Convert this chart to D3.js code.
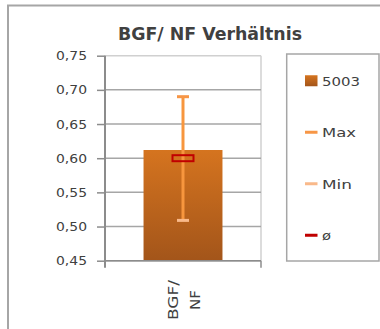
<!DOCTYPE html>
<html>
<head>
<meta charset="utf-8">
<script src="https://cdn.jsdelivr.net/npm/d3@7"></script>
<style>
  body { margin: 0; background: #fff; }
  text { font-family: "DejaVu Sans", sans-serif; fill: #404040; }
</style>
</head>
<body>
<div id="chart"></div>
<script>
// values
var categories = ["BGF/ NF"];
var labelLines = [["BGF/", "NF"]];
var barValues = [0.612];
var maxValues = [0.69];
var minValues = [0.509];
var meanValues = [0.60];
var yTicks = [0.45, 0.50, 0.55, 0.60, 0.65, 0.70, 0.75];
var legendLabels = ["5003", "Max", "Min", "\u00f8"];
var title = "BGF/ NF Verh\u00e4ltnis";

var w = 380, h = 329;
var plotLeft = 105, plotRight = 261, plotTop = 55.7, plotBottom = 260.7;

var de = d3.formatLocale({decimal: ",", thousands: ".", grouping: [3], currency: ["", "€"]});
var fmt = de.format(".2f");

var svg = d3.select("#chart").append("svg").attr("width", w).attr("height", h);

var defs = svg.append("defs");
var grad = defs.append("linearGradient").attr("id", "barGrad")
  .attr("x1", 0).attr("y1", 0).attr("x2", 0).attr("y2", 1);
grad.append("stop").attr("offset", "0%").attr("stop-color", "#d5741f");
grad.append("stop").attr("offset", "100%").attr("stop-color", "#a3551a");

// outer chart border
svg.append("rect")
  .attr("x", 8).attr("y", 5.5)
  .attr("width", w).attr("height", h)
  .attr("fill", "#fff")
  .attr("stroke", "#a6a6a6")
  .attr("stroke-width", 2);

var xScale = d3.scaleBand()
  .domain(categories)
  .range([plotLeft, plotRight])
  .padding(0.328);

var yScale = d3.scaleLinear()
  .domain([0.45, 0.75])
  .range([plotBottom, plotTop]);

// plot area border (right side)
svg.append("line")
  .attr("x1", plotRight).attr("x2", plotRight)
  .attr("y1", plotTop).attr("y2", plotBottom)
  .attr("stroke", "#d0d0d0").attr("stroke-width", 1.5);

// gridlines
svg.selectAll(".grid")
  .data(yTicks)
  .enter()
  .append("line")
  .attr("class", "grid")
  .attr("x1", plotLeft).attr("x2", plotRight)
  .attr("y1", function(d) { return yScale(d); })
  .attr("y2", function(d) { return yScale(d); })
  .attr("stroke", function(d, i) { return i == yTicks.length - 1 ? "#d0d0d0" : "#a6a6a6"; })
  .attr("stroke-width", 1.5);

// bars
svg.selectAll(".bar")
  .data(categories)
  .enter()
  .append("rect")
  .attr("class", "bar")
  .attr("x", function(d) { return xScale(d); })
  .attr("y", function(d, i) { return yScale(barValues[i]); })
  .attr("width", xScale.bandwidth())
  .attr("height", function(d, i) { return yScale(0.45) - yScale(barValues[i]); })
  .attr("fill", "url(#barGrad)");

// y axis
var yAxis = d3.axisLeft(yScale)
  .tickValues(yTicks)
  .tickFormat(fmt)
  .tickSize(8)
  .tickSizeOuter(0)
  .tickPadding(10);

var gy = svg.append("g")
  .attr("transform", "translate(" + plotLeft + ",0)")
  .call(yAxis);
gy.select(".domain").remove();
gy.selectAll("line").attr("stroke", "#8c8c8c").attr("stroke-width", 1.5);
gy.selectAll("text")
  .attr("font-size", 12.5)
  .attr("font-family", "DejaVu Sans")
  .attr("fill", "#404040")
  .attr("textLength", 31)
  .attr("lengthAdjust", "spacingAndGlyphs");

// axis lines
svg.append("line")
  .attr("x1", plotLeft).attr("x2", plotLeft)
  .attr("y1", plotTop).attr("y2", plotBottom + 7)
  .attr("stroke", "#8c8c8c").attr("stroke-width", 2);
svg.append("line")
  .attr("x1", plotLeft).attr("x2", plotRight)
  .attr("y1", plotBottom).attr("y2", plotBottom)
  .attr("stroke", "#8c8c8c").attr("stroke-width", 1.5);
svg.append("line")
  .attr("x1", plotRight).attr("x2", plotRight)
  .attr("y1", plotBottom).attr("y2", plotBottom + 7)
  .attr("stroke", "#8c8c8c").attr("stroke-width", 1.5);

// error bars: min to max
var cx = function(i) { return xScale(categories[i]) + xScale.bandwidth() / 2; };

svg.selectAll(".err")
  .data(categories)
  .enter()
  .append("line")
  .attr("x1", function(d, i) { return cx(i); })
  .attr("x2", function(d, i) { return cx(i); })
  .attr("y1", function(d, i) { return yScale(maxValues[i]); })
  .attr("y2", function(d, i) { return yScale(minValues[i]); })
  .attr("stroke", "#f7963e").attr("stroke-width", 3);

svg.selectAll(".capMax")
  .data(categories)
  .enter()
  .append("rect")
  .attr("x", function(d, i) { return cx(i) - 6; })
  .attr("y", function(d, i) { return yScale(maxValues[i]) - 1.5; })
  .attr("width", 12).attr("height", 3)
  .attr("fill", "#f79646");

svg.selectAll(".capMin")
  .data(categories)
  .enter()
  .append("rect")
  .attr("x", function(d, i) { return cx(i) - 6; })
  .attr("y", function(d, i) { return yScale(minValues[i]) - 1.5; })
  .attr("width", 12).attr("height", 3)
  .attr("fill", "#f9b98a");

// mean marker
svg.selectAll(".mean")
  .data(categories)
  .enter()
  .append("rect")
  .attr("x", function(d, i) { return cx(i) - 10.5; })
  .attr("y", function(d, i) { return yScale(meanValues[i]) - 3; })
  .attr("width", 21).attr("height", 6)
  .attr("fill", "none")
  .attr("stroke", "#c00000").attr("stroke-width", 2);

// category label, rotated
labelLines.forEach(function(lines, i) {
  var g = svg.append("g")
    .attr("transform", "translate(" + cx(i) + ",300) rotate(-90)");
  g.selectAll("text")
    .data(lines)
    .enter()
    .append("text")
    .attr("x", 0)
    .attr("y", function(d, j) { return -5 + j * 22; })
    .attr("text-anchor", "middle")
    .attr("font-size", 13.5)
    .attr("textLength", function(d) { return d.length > 2 ? 40 : 20; })
    .attr("lengthAdjust", "spacingAndGlyphs")
    .text(function(d) { return d; });
});

// title
svg.append("text")
  .attr("x", 210).attr("y", 40)
  .attr("text-anchor", "middle")
  .attr("font-family", "Open Sans")
  .attr("font-weight", "bold")
  .attr("font-size", 17.5)
  .attr("fill", "#262626")
  .attr("textLength", 184)
  .attr("lengthAdjust", "spacingAndGlyphs")
  .text(title);

// legend
svg.append("rect")
  .attr("x", 286.7).attr("y", 54)
  .attr("width", 92.3).attr("height", 207)
  .attr("fill", "#fff")
  .attr("stroke", "#a6a6a6").attr("stroke-width", 1.5);

var legendY = d3.scaleBand()
  .domain(legendLabels)
  .range([55, 261]);
var legendColors = ["url(#barGrad)", "#f79646", "#f9b98a", "#c00000"];
var legendWidths = [38, 34, 30, 9];

var lg = svg.selectAll(".leg")
  .data(legendLabels)
  .enter()
  .append("g")
  .attr("transform", function(d) {
    return "translate(0," + (legendY(d) + legendY.bandwidth() / 2) + ")";
  });

lg.append("rect")
  .attr("x", 305)
  .attr("y", function(d, i) { return i == 0 ? -5.5 : -1.5; })
  .attr("width", 12.5)
  .attr("height", function(d, i) { return i == 0 ? 11 : 3; })
  .attr("fill", function(d, i) { return legendColors[i]; });

lg.append("text")
  .attr("x", 322)
  .attr("y", 5)
  .attr("font-size", 13)
  .attr("textLength", function(d, i) { return legendWidths[i]; })
  .attr("lengthAdjust", "spacingAndGlyphs")
  .text(function(d) { return d; });
</script>
</body>
</html>
